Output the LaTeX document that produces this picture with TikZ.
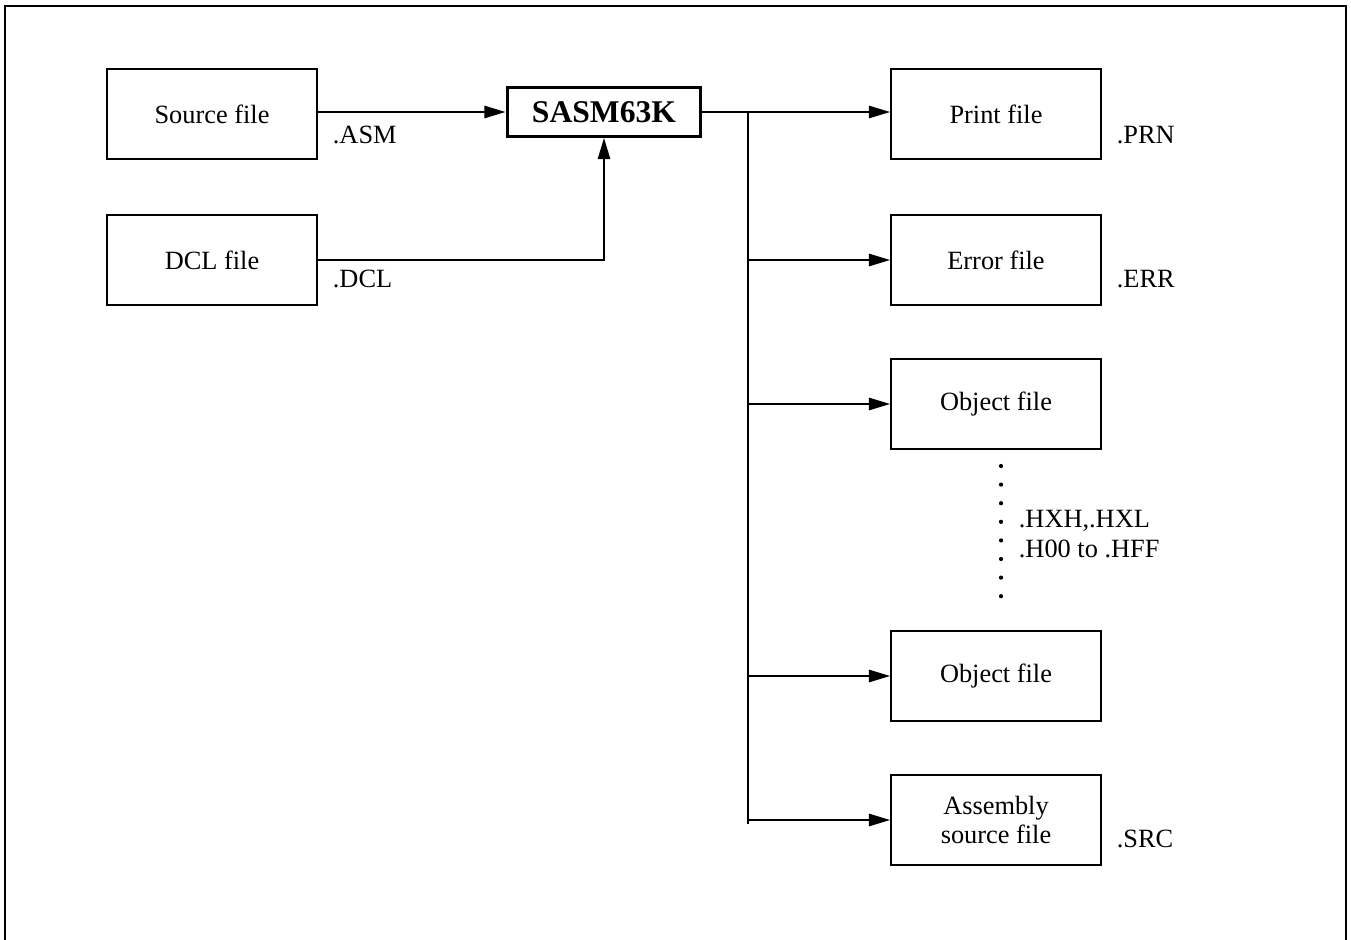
\documentclass[tikz,border=0pt]{standalone}
\usepackage{fontspec}
\setmainfont{Liberation Serif}
\usetikzlibrary{arrows.meta}

\begin{document}
\begin{tikzpicture}[x=0.02cm,y=-0.02cm]
	\tikzset{filebox/.style={draw,line width=1.1pt,minimum width=4.2cm,minimum height=1.8cm,align=center,font=\fontsize{15}{17}\selectfont},
		ext/.style={anchor=west,inner sep=0pt,font=\fontsize{15}{17}\selectfont},
		->/.style={-{Triangle[length=12pt,width=7pt]}},
		every path/.append style={line width=1pt}}
	\useasboundingbox (0,0) rectangle (1351,939);
	\draw[line width=1.5pt] (5,960) |- (1346,6) -- (1346,960);
	\node[filebox] (src) at (212,114) {Source file};
	\node[filebox] (dcl) at (212,260) {DCL file};
	\node[draw,line width=1.7pt,minimum width=3.88cm,minimum height=0.98cm,font=\fontsize{18}{20}\selectfont\bfseries] (sasm) at (604,112) {SASM63K};
	\node[filebox] (prn) at (996,114) {Print file};
	\node[filebox] (err) at (996,260) {Error file};
	\node[filebox] (obj1) at (996,404) {Object file};
	\node[filebox] (obj2) at (996,676) {Object file};
	\node[filebox] (asm) at (996,820) {Assembly\\source file};
	\node[ext] (lasm) at (332,135) {.ASM};
	\node[ext] (ldcl) at (332,279) {.DCL};
	\node[ext] (lprn) at (1116,135) {.PRN};
	\node[ext] (lerr) at (1116,279) {.ERR};
	\node[ext] (lsrc) at (1116,839) {.SRC};
	\node[ext] (lhx) at (1018,521) {.HXH,.HXL};
	\node[ext] (lhff) at (1018,549) {.H00 to .HFF};
	\foreach \i in {0,...,7}
		\fill (1001,466+\i*18.6) circle[radius=1.2pt];
	\coordinate (split) at (748,112);
	\coordinate (bottom) at (748,824);
	\draw[->] (src.east |- sasm) -- (sasm);
	\draw[->] (dcl) -| (sasm);
	\draw (sasm) -- (split) -- (bottom);
	\path[->]
		(split) edge (split -| prn.west)
		(split |- err) edge (err)
		(split |- obj1) edge (obj1)
		(split |- obj2) edge (obj2)
		(split |- asm) edge (asm);
\end{tikzpicture}
\end{document}
